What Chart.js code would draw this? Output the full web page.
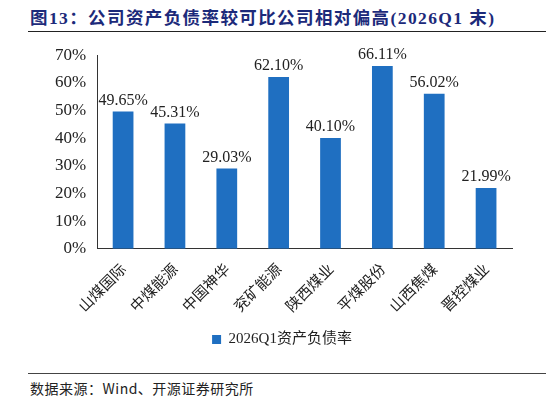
<!DOCTYPE html>
<html><head><meta charset="utf-8">
<script src="https://cdn.jsdelivr.net/npm/chart.js@4"></script>
<style>
body{margin:0;width:546px;height:405px;background:#fff;position:relative;font-family:"Liberation Serif","Noto Sans CJK SC",serif;}
#title{position:absolute;left:30px;top:4px;font-size:17.5px;font-weight:bold;color:#1c2a7a;white-space:nowrap;letter-spacing:1.4px;font-family:"Liberation Serif","Noto Sans CJK SC",serif;}
#line1{position:absolute;left:28px;right:0;top:31px;border-top:1.5px solid #222;}
#wrap{position:absolute;left:52px;top:42px;width:470px;height:315px;}
#line2{position:absolute;left:28px;right:0;top:373px;border-top:1px solid #444;}
#src{position:absolute;left:30px;top:378px;font-size:14px;color:#222;letter-spacing:0.5px;font-family:"Noto Sans CJK SC",sans-serif;}
</style></head><body>
<div id="title">图13：公司资产负债率较可比公司相对偏高(2026Q1 末)</div>
<div id="line1"></div>
<div id="wrap"><canvas id="c"></canvas></div>
<div id="line2"></div>
<div id="src">数据来源：Wind、开源证券研究所</div>
<script>
const companies = ["山煤国际","中煤能源","中国神华","兖矿能源","陕西煤业","平煤股份","山西焦煤","晋控煤业"];
const debtRatio = [49.65,45.31,29.03,62.10,40.10,66.11,56.02,21.99];
const seriesName = "2026Q1资产负债率";

const labelPlugin = {
  id: "valueLabels",
  afterDatasetsDraw(chart) {
    const ctx = chart.ctx;
    const meta = chart.getDatasetMeta(0);
    ctx.save();
    ctx.font = "16px 'Liberation Serif'";
    ctx.fillStyle = "#222";
    ctx.textAlign = "center";
    ctx.textBaseline = "bottom";
    meta.data.forEach((bar, i) => {
      ctx.fillText(debtRatio[i].toFixed(2) + "%", bar.x, bar.y - 3);
    });
    ctx.restore();
  }
};

new Chart(document.getElementById("c"), {
  type: "bar",
  data: {
    labels: companies,
    datasets: [{
      label: seriesName,
      data: debtRatio,
      backgroundColor: "#1f6fc1",
      categoryPercentage: 0.8,
      barPercentage: 0.5
    }]
  },
  options: {
    responsive: true,
    maintainAspectRatio: false,
    animation: false,
    layout: { padding: { right: 10, top: 10 } },
    plugins: {
      legend: {
        position: "bottom",
        labels: {
          boxWidth: 9, boxHeight: 9, color: "#222", padding: 14,
          font: { size: 15, family: "'Liberation Serif','Noto Sans CJK SC'" }
        }
      },
      tooltip: { enabled: false }
    },
    scales: {
      x: {
        grid: { display: false },
        border: { color: "#333" },
        ticks: {
          autoSkip: false, minRotation: 45, maxRotation: 45, color: "#222",
          font: { size: 15, family: "'Noto Sans CJK SC'" }
        }
      },
      y: {
        min: 0, max: 70,
        grid: { display: false, drawTicks: true },
        border: { color: "#333" },
        ticks: {
          stepSize: 10, color: "#222",
          font: { size: 17, family: "'Liberation Serif'" },
          callback: v => v + "%"
        }
      }
    }
  },
  plugins: [labelPlugin]
});
</script>
</body></html>
